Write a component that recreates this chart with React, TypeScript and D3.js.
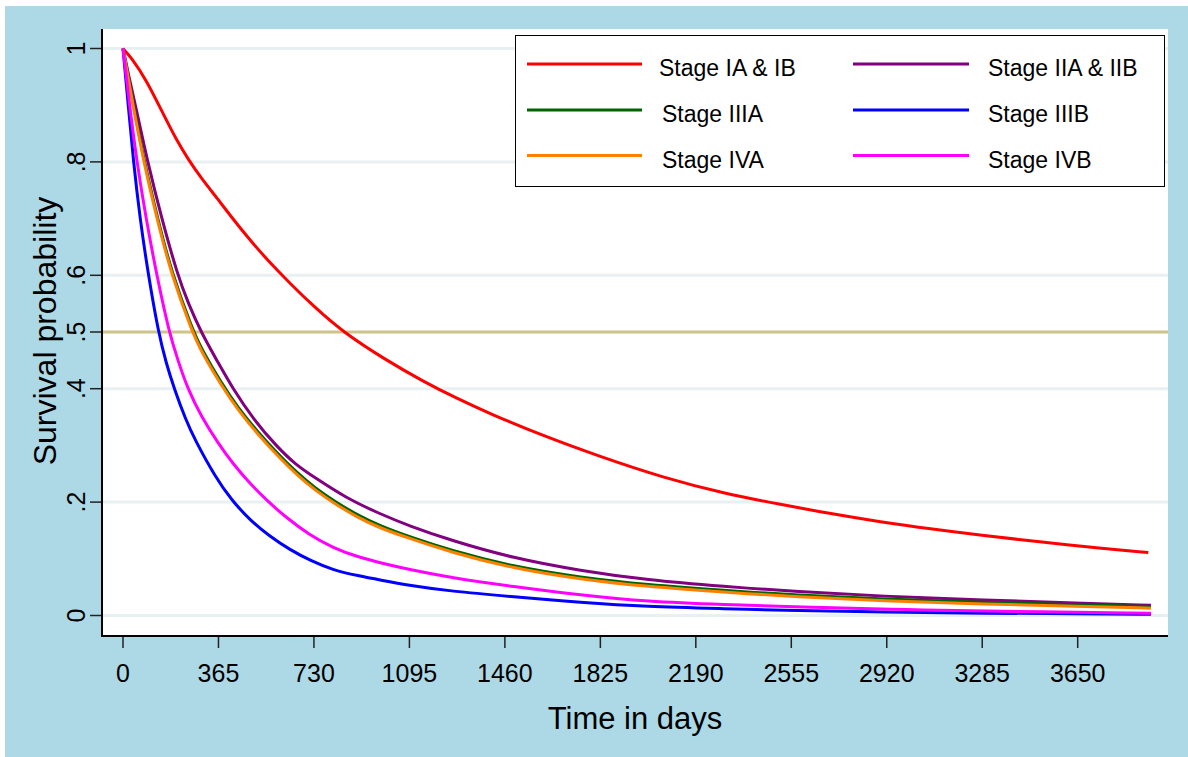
import React, { useEffect, useRef } from "react";
import * as d3 from "d3";

// Kaplan-Meier survival estimates (days, probability)
const stageIADays = [0, 30, 90, 150, 205, 250, 301, 365, 409, 480, 550, 640, 734, 841, 1000, 1147, 1280, 1403, 1600, 1825, 2066, 2300, 2512, 2700, 2894, 3100, 3277, 3500, 3700, 3920];
const stageIASurv = [1, 0.985, 0.944, 0.888, 0.838, 0.804, 0.77, 0.733, 0.706, 0.665, 0.628, 0.585, 0.543, 0.5, 0.452, 0.413, 0.382, 0.356, 0.318, 0.28, 0.243, 0.215, 0.196, 0.18, 0.165, 0.152, 0.142, 0.13, 0.12, 0.111];

const stageIIDays = [0, 25, 50, 94, 148, 209, 250, 298, 365, 416, 500, 588, 660, 734, 850, 983, 1095, 1250, 1492, 1750, 2002, 2300, 2576, 2900, 3300, 3650, 3930];
const stageIISurv = [1, 0.945, 0.895, 0.8, 0.7, 0.6, 0.55, 0.5, 0.445, 0.403, 0.345, 0.298, 0.266, 0.243, 0.208, 0.179, 0.158, 0.133, 0.101, 0.079, 0.0626, 0.051, 0.042, 0.034, 0.027, 0.022, 0.018];

const stageIIIADays = [0, 40, 79, 135, 186, 265, 300, 377, 440, 511, 590, 664, 734, 810, 893, 983, 1095, 1250, 1492, 1750, 2002, 2300, 2576, 2900, 3300, 3650, 3930];
const stageIIIASurv = [1, 0.9, 0.805, 0.695, 0.605, 0.505, 0.47, 0.409, 0.366, 0.326, 0.286, 0.252, 0.225, 0.201, 0.178, 0.158, 0.139, 0.115, 0.086, 0.067, 0.054, 0.044, 0.036, 0.029, 0.023, 0.019, 0.016];

const stageIIIBDays = [0, 20, 40, 65, 97, 135, 165, 196, 240, 275, 352, 416, 486, 560, 638, 720, 804, 900, 983, 1095, 1250, 1492, 1750, 2002, 2300, 2576, 2900, 3300, 3650, 3930];
const stageIIIBSurv = [1, 0.9, 0.8, 0.7, 0.6, 0.5, 0.445, 0.4, 0.345, 0.31, 0.245, 0.203, 0.168, 0.14, 0.116, 0.096, 0.08, 0.07, 0.0626, 0.053, 0.043, 0.033, 0.023, 0.0155, 0.012, 0.0085, 0.006, 0.004, 0.003, 0.002];

const stageIVADays = [0, 40, 79, 135, 186, 265, 300, 377, 440, 511, 590, 664, 734, 810, 893, 983, 1095, 1250, 1492, 1750, 2002, 2300, 2576, 2900, 3300, 3650, 3930];
const stageIVASurv = [1, 0.895, 0.8, 0.69, 0.6, 0.5, 0.465, 0.405, 0.362, 0.322, 0.282, 0.248, 0.221, 0.197, 0.174, 0.154, 0.136, 0.112, 0.083, 0.064, 0.051, 0.041, 0.033, 0.026, 0.02, 0.016, 0.013];

const stageIVBDays = [0, 25, 53, 88, 129, 176, 210, 247, 300, 365, 420, 479, 549, 626, 710, 804, 900, 983, 1095, 1250, 1492, 1750, 2002, 2300, 2576, 3000, 3400, 3930];
const stageIVBSurv = [1, 0.9, 0.8, 0.7, 0.6, 0.5, 0.45, 0.4, 0.35, 0.303, 0.268, 0.236, 0.203, 0.172, 0.143, 0.119, 0.103, 0.093, 0.081, 0.067, 0.051, 0.036, 0.0243, 0.019, 0.0155, 0.01, 0.007, 0.004];

const xTicks = [0, 365, 730, 1095, 1460, 1825, 2190, 2555, 2920, 3285, 3650];
const yTicks = [0, 0.2, 0.4, 0.5, 0.6, 0.8, 1];
const yTickLabels = ["0", ".2", ".4", ".5", ".6", ".8", "1"];
const gridValues = [0, 0.2, 0.4, 0.6, 0.8, 1];

// drawing order matters: orange sits over green
const series = [
  { name: "Stage IA & IB", days: stageIADays, surv: stageIASurv, color: "#ff0000" },
  { name: "Stage IIA & IIB", days: stageIIDays, surv: stageIISurv, color: "#800080" },
  { name: "Stage IIIA", days: stageIIIADays, surv: stageIIIASurv, color: "#006400" },
  { name: "Stage IIIB", days: stageIIIBDays, surv: stageIIIBSurv, color: "#0000ff" },
  { name: "Stage IVA", days: stageIVADays, surv: stageIVASurv, color: "#ff8000" },
  { name: "Stage IVB", days: stageIVBDays, surv: stageIVBSurv, color: "#ff00ff" },
];

const W = 1188;
const H = 757;
const FONT = "'Liberation Sans', Arial, sans-serif";

export default function App() {
  const svgRef = useRef<SVGSVGElement>(null);

  useEffect(() => {
    const svg = d3.select(svgRef.current);
    svg.selectAll("*").remove();

    const plot = { left: 102, top: 29, right: 1168, bottom: 636 };

    const xScale = d3.scaleLinear().domain([0, 3650]).range([123, 1077.7]);
    const yScale = d3.scaleLinear().domain([0, 1]).range([615.5, 48.5]);

    // backgrounds
    svg.append("rect").attr("width", W).attr("height", H).attr("fill", "#ffffff");
    svg.append("rect").attr("x", 5).attr("y", 6).attr("width", W - 5).attr("height", H - 6).attr("fill", "#add8e6");
    svg
      .append("rect")
      .attr("x", plot.left)
      .attr("y", plot.top)
      .attr("width", plot.right - plot.left)
      .attr("height", plot.bottom - plot.top)
      .attr("fill", "#ffffff");

    // gridlines
    svg
      .append("g")
      .selectAll("line")
      .data(gridValues)
      .join("line")
      .attr("x1", plot.left)
      .attr("x2", plot.right)
      .attr("y1", (d) => yScale(d))
      .attr("y2", (d) => yScale(d))
      .attr("stroke", "#e8f0f2")
      .attr("stroke-width", 3);

    // median reference line
    svg
      .append("line")
      .attr("x1", plot.left)
      .attr("x2", plot.right)
      .attr("y1", yScale(0.5))
      .attr("y2", yScale(0.5))
      .attr("stroke", "#cdc48c")
      .attr("stroke-width", 3);

    // curves
    const line = d3
      .line<[number, number]>()
      .x((d) => xScale(d[0]))
      .y((d) => yScale(d[1]))
      .curve(d3.curveBasis);

    svg
      .append("g")
      .selectAll("path")
      .data(series)
      .join("path")
      .attr("d", (s) => line(s.days.map((d, i) => [d, s.surv[i]] as [number, number])))
      .attr("fill", "none")
      .attr("stroke", (s) => s.color)
      .attr("stroke-width", 3)
      .attr("stroke-linejoin", "round");

    // axes
    const yAxis = svg.append("g").attr("transform", `translate(${plot.left},0)`);
    yAxis
      .selectAll("line.tick")
      .data(yTicks)
      .join("line")
      .attr("class", "tick")
      .attr("x1", -12)
      .attr("x2", 0)
      .attr("y1", (d) => yScale(d))
      .attr("y2", (d) => yScale(d))
      .attr("stroke", "#222")
      .attr("stroke-width", 1.5);
    yAxis
      .selectAll("text")
      .data(yTicks)
      .join("text")
      .attr("transform", (d) => `translate(-17,${yScale(d)}) rotate(-90)`)
      .attr("text-anchor", "middle")
      .attr("font-family", FONT)
      .attr("font-size", 25)
      .attr("fill", "#000")
      .text((d, i) => yTickLabels[i]);
    yAxis
      .append("line")
      .attr("x1", 0)
      .attr("x2", 0)
      .attr("y1", plot.top)
      .attr("y2", plot.bottom + 1)
      .attr("stroke", "#000")
      .attr("stroke-width", 2);

    const xAxis = svg.append("g").attr("transform", `translate(0,${plot.bottom})`);
    xAxis
      .selectAll("line.tick")
      .data(xTicks)
      .join("line")
      .attr("class", "tick")
      .attr("x1", (d) => xScale(d))
      .attr("x2", (d) => xScale(d))
      .attr("y1", 0)
      .attr("y2", 12)
      .attr("stroke", "#222")
      .attr("stroke-width", 1.5);
    xAxis
      .selectAll("text")
      .data(xTicks)
      .join("text")
      .attr("x", (d) => xScale(d))
      .attr("y", 46)
      .attr("text-anchor", "middle")
      .attr("font-family", FONT)
      .attr("font-size", 25)
      .attr("fill", "#000")
      .text((d) => String(d));
    xAxis
      .append("line")
      .attr("x1", plot.left - 1)
      .attr("x2", plot.right)
      .attr("y1", 0)
      .attr("y2", 0)
      .attr("stroke", "#000")
      .attr("stroke-width", 2);

    // axis titles
    svg
      .append("text")
      .attr("x", 635)
      .attr("y", 729)
      .attr("text-anchor", "middle")
      .attr("font-family", FONT)
      .attr("font-size", 31)
      .attr("fill", "#000")
      .text("Time in days");
    svg
      .append("text")
      .attr("transform", "translate(56,331) rotate(-90)")
      .attr("text-anchor", "middle")
      .attr("font-family", FONT)
      .attr("font-size", 32)
      .attr("fill", "#000")
      .text("Survival probability");

    // legend
    const legend = svg.append("g");
    legend
      .append("rect")
      .attr("x", 515.5)
      .attr("y", 35.5)
      .attr("width", 649)
      .attr("height", 151)
      .attr("fill", "#ffffff")
      .attr("stroke", "#000")
      .attr("stroke-width", 1);

    const rowY = [64, 110, 155.5];
    const cols = [
      { x1: 527, x2: 642, tx: 659 },
      { x1: 853, x2: 969, tx: 988 },
    ];
    const legendOrder = [
      ["Stage IA & IB", 0, 0],
      ["Stage IIA & IIB", 1, 0],
      ["Stage IIIA", 0, 1],
      ["Stage IIIB", 1, 1],
      ["Stage IVA", 0, 2],
      ["Stage IVB", 1, 2],
    ] as [string, number, number][];

    const items = legend
      .selectAll("g.item")
      .data(legendOrder)
      .join("g")
      .attr("class", "item");
    items
      .append("line")
      .attr("x1", (d) => cols[d[1]].x1)
      .attr("x2", (d) => cols[d[1]].x2)
      .attr("y1", (d) => rowY[d[2]])
      .attr("y2", (d) => rowY[d[2]])
      .attr("stroke", (d) => series.find((s) => s.name === d[0])!.color)
      .attr("stroke-width", 3);
    items
      .append("text")
      .attr("x", (d) => cols[d[1]].tx + (d[1] === 0 && d[2] > 0 ? 3 : 0))
      .attr("y", (d) => rowY[d[2]] + 12)
      .attr("font-family", FONT)
      .attr("font-size", 23)
      .attr("fill", "#000")
      .text((d) => d[0]);
  }, []);

  return (
    <div style={{ position: "absolute", left: 0, top: 0 }}>
      <svg ref={svgRef} width={W} height={H} style={{ display: "block" }} />
    </div>
  );
}
